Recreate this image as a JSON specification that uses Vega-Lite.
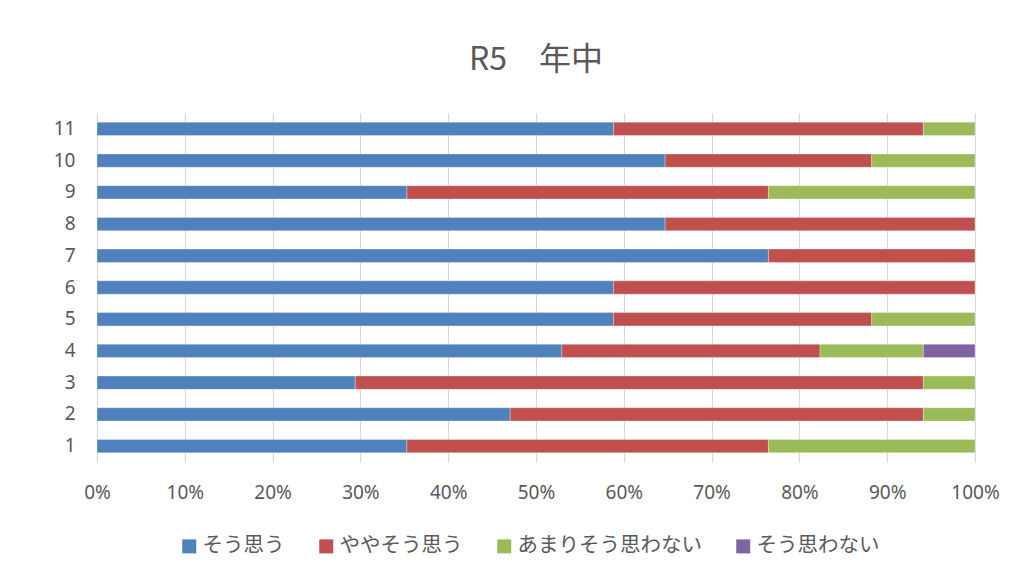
{
  "$schema": "https://vega.github.io/schema/vega-lite/v6.json",
  "width": 878,
  "height": 349,
  "autosize": {"type": "none"},
  "padding": {"left": 97, "top": 113, "right": 42, "bottom": 113},
  "background": "white",
  "title": {
    "text": "R5　年中",
    "font": "Noto Sans CJK JP",
    "fontSize": 32,
    "fontWeight": "normal",
    "color": "#595959",
    "anchor": "middle",
    "offset": 36
  },
  "data": {
    "values": [
      {"item": 11, "answer": "そう思う", "k": 1, "value": 10},
      {"item": 11, "answer": "ややそう思う", "k": 2, "value": 6},
      {"item": 11, "answer": "あまりそう思わない", "k": 3, "value": 1},
      {"item": 10, "answer": "そう思う", "k": 1, "value": 11},
      {"item": 10, "answer": "ややそう思う", "k": 2, "value": 4},
      {"item": 10, "answer": "あまりそう思わない", "k": 3, "value": 2},
      {"item": 9, "answer": "そう思う", "k": 1, "value": 6},
      {"item": 9, "answer": "ややそう思う", "k": 2, "value": 7},
      {"item": 9, "answer": "あまりそう思わない", "k": 3, "value": 4},
      {"item": 8, "answer": "そう思う", "k": 1, "value": 11},
      {"item": 8, "answer": "ややそう思う", "k": 2, "value": 6},
      {"item": 7, "answer": "そう思う", "k": 1, "value": 13},
      {"item": 7, "answer": "ややそう思う", "k": 2, "value": 4},
      {"item": 6, "answer": "そう思う", "k": 1, "value": 10},
      {"item": 6, "answer": "ややそう思う", "k": 2, "value": 7},
      {"item": 5, "answer": "そう思う", "k": 1, "value": 10},
      {"item": 5, "answer": "ややそう思う", "k": 2, "value": 5},
      {"item": 5, "answer": "あまりそう思わない", "k": 3, "value": 2},
      {"item": 4, "answer": "そう思う", "k": 1, "value": 9},
      {"item": 4, "answer": "ややそう思う", "k": 2, "value": 5},
      {"item": 4, "answer": "あまりそう思わない", "k": 3, "value": 2},
      {"item": 4, "answer": "そう思わない", "k": 4, "value": 1},
      {"item": 3, "answer": "そう思う", "k": 1, "value": 5},
      {"item": 3, "answer": "ややそう思う", "k": 2, "value": 11},
      {"item": 3, "answer": "あまりそう思わない", "k": 3, "value": 1},
      {"item": 2, "answer": "そう思う", "k": 1, "value": 8},
      {"item": 2, "answer": "ややそう思う", "k": 2, "value": 8},
      {"item": 2, "answer": "あまりそう思わない", "k": 3, "value": 1},
      {"item": 1, "answer": "そう思う", "k": 1, "value": 6},
      {"item": 1, "answer": "ややそう思う", "k": 2, "value": 7},
      {"item": 1, "answer": "あまりそう思わない", "k": 3, "value": 4}
    ]
  },
  "mark": {"type": "bar", "stroke": "white", "strokeWidth": 0.5, "strokeOpacity": 0.6},
  "encoding": {
    "y": {
      "field": "item",
      "type": "ordinal",
      "sort": "descending",
      "scale": {"paddingInner": 0.58, "paddingOuter": 0.29},
      "axis": {
        "title": null,
        "domain": false,
        "ticks": false,
        "labelPadding": 22,
        "labelFont": "Noto Sans",
        "labelFontSize": 19,
        "labelColor": "#595959"
      }
    },
    "x": {
      "field": "value",
      "type": "quantitative",
      "stack": "normalize",
      "scale": {"domain": [0, 1], "nice": false},
      "axis": {
        "title": null,
        "format": ".0%",
        "values": [0, 0.1, 0.2, 0.3, 0.4, 0.5, 0.6, 0.7, 0.8, 0.9, 1],
        "domain": false,
        "ticks": false,
        "grid": true,
        "gridColor": "#d9d9d9",
        "gridWidth": 1.2,
        "labelPadding": 21,
        "labelFont": "Noto Sans",
        "labelFontSize": 19,
        "labelColor": "#595959",
        "labelFlush": false
      }
    },
    "color": {
      "field": "answer",
      "type": "nominal",
      "scale": {
        "domain": ["そう思う", "ややそう思う", "あまりそう思わない", "そう思わない"],
        "range": ["#4F81BD", "#C0504D", "#9BBB59", "#8064A2"]
      },
      "legend": {
        "title": null,
        "orient": "none",
        "legendX": 82,
        "legendY": 423,
        "direction": "horizontal",
        "symbolType": "square",
        "symbolSize": 196,
        "symbolStrokeWidth": 0,
        "labelFont": "Noto Sans CJK JP",
        "labelFontSize": 20.5,
        "labelColor": "#595959",
        "labelLimit": 400,
        "labelOffset": 3,
        "columnPadding": 31
      }
    },
    "order": {"field": "k", "type": "quantitative", "sort": "ascending"}
  },
  "config": {"view": {"stroke": null}}
}
